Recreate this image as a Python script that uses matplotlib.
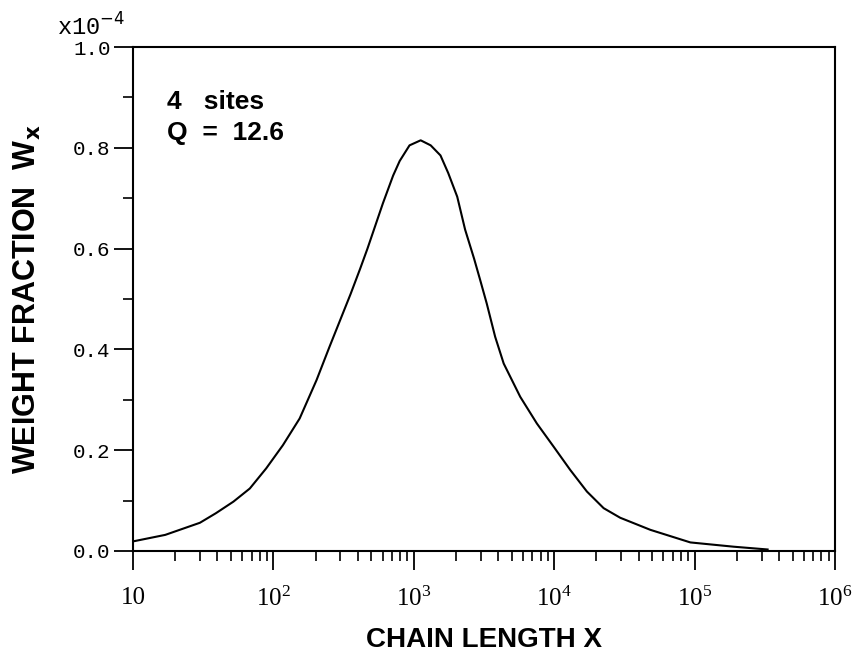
import matplotlib
matplotlib.use("Agg")
import matplotlib.pyplot as plt
from matplotlib.ticker import FixedLocator, NullFormatter, MultipleLocator

# chain length X and weight fraction W_x (units of 1e-4)
chain_length = [10, 17, 30, 39, 52, 68, 89, 117, 154, 203, 251, 355, 415,
                468, 603, 713, 794, 933, 1120, 1320, 1550, 1760, 2040, 2320,
                2690, 2970, 3310, 3800, 4370, 5730, 7530, 9910, 13000,
                17100, 22500, 29500, 48400, 93300, 190000, 331000]
weight_frac = [0.019, 0.032, 0.056, 0.075, 0.098, 0.124, 0.164, 0.210,
               0.263, 0.339, 0.405, 0.510, 0.560, 0.600, 0.690, 0.745,
               0.774, 0.805, 0.815, 0.805, 0.785, 0.750, 0.703, 0.638,
               0.580, 0.538, 0.491, 0.425, 0.372, 0.306, 0.253, 0.207,
               0.161, 0.118, 0.085, 0.066, 0.042, 0.017, 0.0085, 0.003]

x_ticks = [10, 1e2, 1e3, 1e4, 1e5, 1e6]
x_tick_labels = ["10", r"$\mathregular{10^{2}}$", r"$\mathregular{10^{3}}$",
                 r"$\mathregular{10^{4}}$", r"$\mathregular{10^{5}}$",
                 r"$\mathregular{10^{6}}$"]
y_ticks = [0.0, 0.2, 0.4, 0.6, 0.8, 1.0]

fig = plt.figure(figsize=(8.63, 6.54), dpi=100)
ax = fig.add_axes([0.154, 0.1575, 0.8136, 0.7705])

ax.plot(chain_length, weight_frac, color="black", lw=1.5)
ax.set_xscale("log")
ax.set_xlim(10, 1e6)
ax.set_ylim(0, 1.0)

ax.xaxis.set_major_locator(FixedLocator(x_ticks))
ax.set_xticklabels(x_tick_labels, family="Liberation Serif", fontsize=18)
minor = [m * 10 ** d for d in range(1, 6) for m in range(2, 10)]
ax.xaxis.set_minor_locator(FixedLocator(minor))
ax.xaxis.set_minor_formatter(NullFormatter())

ax.set_yticks(y_ticks)
ax.set_yticklabels([f"{v:.1f}" for v in y_ticks],
                   family="Liberation Mono", fontsize=15)
ax.yaxis.set_minor_locator(MultipleLocator(0.1))

ax.tick_params(which="major", direction="out", length=14, width=1.3)
ax.tick_params(which="minor", direction="out", length=7, width=1.2)
ax.tick_params(axis="x", which="major", pad=12)
ax.tick_params(axis="y", which="major", pad=2)
for s in ax.spines.values():
    s.set_linewidth(1.5)

ax.set_xlabel("CHAIN LENGTH X", family="Liberation Sans", fontweight="bold",
              fontsize=20, labelpad=11)
ax.set_ylabel(r"WEIGHT FRACTION  W$_\mathbf{x}$", family="Liberation Sans",
              fontweight="bold", fontsize=22, labelpad=22)

fig.text(0.066, 0.945, r"x10$^{-4}$", family="Liberation Mono", fontsize=17,
         math_fontfamily="dejavusans")
ax.text(0.048, 0.915, "4   sites\nQ  =  12.6", transform=ax.transAxes,
        family="Liberation Sans", fontweight="bold", fontsize=19,
        va="top", ha="left", linespacing=1.35)

fig.savefig("out.png", dpi=100)
